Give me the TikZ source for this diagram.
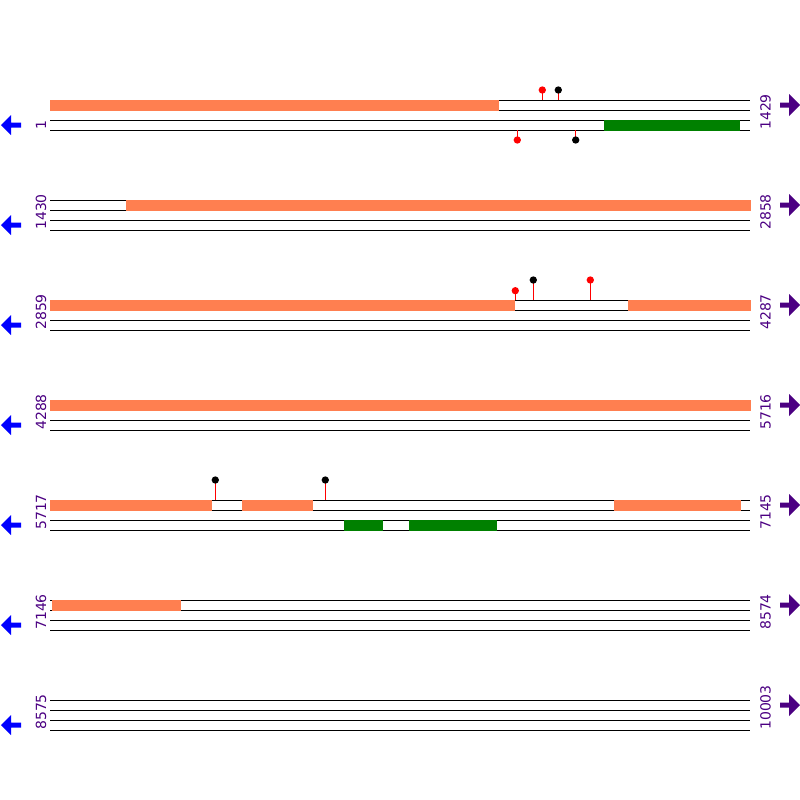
\documentclass[tikz,border=0pt]{standalone}
\usepackage{fontspec}
\setmainfont{DejaVu Sans}
\definecolor{feat}{HTML}{FF7F50}
\definecolor{cds}{HTML}{008000}
\definecolor{numc}{HTML}{4B0082}
\definecolor{larr}{HTML}{0000FF}
\tikzset{
  strand/.style={line width=0.75pt, black},
  obar/.style={fill=feat, draw=none},
  gbar/.style={fill=cds, draw=none},
  stem/.style={line width=0.75pt, red},
  headR/.style={circle, fill=red, draw=none, minimum size=5.5pt, inner sep=0pt},
  headB/.style={circle, fill=black, draw=none, minimum size=5.5pt, inner sep=0pt},
  numlab/.style={rotate=90, anchor=base west, inner sep=0pt, text=numc, font=\fontsize{10.5}{12}\selectfont},
  rarrow/.style={fill=numc, draw=none},
  larrow/.style={fill=larr, draw=none}
}
\begin{document}
\begin{tikzpicture}[x=0.75pt,y=-0.75pt]
\useasboundingbox (0,0) rectangle (800,800);
% rows: base y = 100*k
\foreach \r/\a/\b in {1/1/1429,2/1430/2858,3/2859/4287,4/4288/5716,5/5717/7145,6/7146/8574,7/8575/10003}{
  \pgfmathsetmacro{\yb}{100*\r}
  \foreach \d in {0,10,20,30}{
    \draw[strand] (50,\yb+\d) -- (750,\yb+\d);
  }
  \node[numlab] (L\r) at (46,\yb+30) {\a};
  \node[numlab] (R\r) at (770.5,\yb+30) {\b};
  \fill[larrow] (1,\yb+25) -- (11,\yb+15) -- (11,\yb+22.5) -- (21,\yb+22.5) -- (21,\yb+27.5) -- (11,\yb+27.5) -- (11,\yb+35) -- cycle;
  \fill[rarrow] (800,\yb+5) -- (789,\yb-6) -- (789,\yb+2.5) -- (780,\yb+2.5) -- (780,\yb+7.5) -- (789,\yb+7.5) -- (789,\yb+16) -- cycle;
}
% row 1
\fill[obar] (50,99.5) rectangle (499,110.5);
\fill[gbar] (604,119.5) rectangle (740,130.5);
\draw[stem] (542.3,100) -- (542.3,90);
\node[headR] (p1) at (542.3,90) {};
\draw[stem] (558.3,100) -- (558.3,90);
\node[headB] (p2) at (558.3,90) {};
\draw[stem] (517.3,130) -- (517.3,140);
\node[headR] (p3) at (517.3,140) {};
\draw[stem] (575.7,130) -- (575.7,140);
\node[headB] (p4) at (575.7,140) {};
% row 2
\fill[obar] (126,199.5) rectangle (750.5,210.5);
% row 3
\fill[obar] (50,299.5) rectangle (515,310.5);
\fill[obar] (628,299.5) rectangle (750.5,310.5);
\draw[stem] (515.3,300) -- (515.3,290.7);
\node[headR] (p5) at (515.3,290.7) {};
\draw[stem] (533.3,300) -- (533.3,280);
\node[headB] (p6) at (533.3,280) {};
\draw[stem] (590.3,300) -- (590.3,280);
\node[headR] (p7) at (590.3,280) {};
% row 4
\fill[obar] (50,399.5) rectangle (750.5,410.5);
% row 5
\fill[obar] (50,499.5) rectangle (212,510.5);
\fill[obar] (242,499.5) rectangle (313,510.5);
\fill[obar] (614,499.5) rectangle (741,510.5);
\fill[gbar] (344,519.5) rectangle (383,530.5);
\fill[gbar] (409,519.5) rectangle (497,530.5);
\draw[stem] (215.3,500) -- (215.3,480);
\node[headB] (p8) at (215.3,480) {};
\draw[stem] (325.3,500) -- (325.3,480);
\node[headB] (p9) at (325.3,480) {};
% row 6
\fill[obar] (52,599.5) rectangle (181,610.5);
\end{tikzpicture}
\end{document}
